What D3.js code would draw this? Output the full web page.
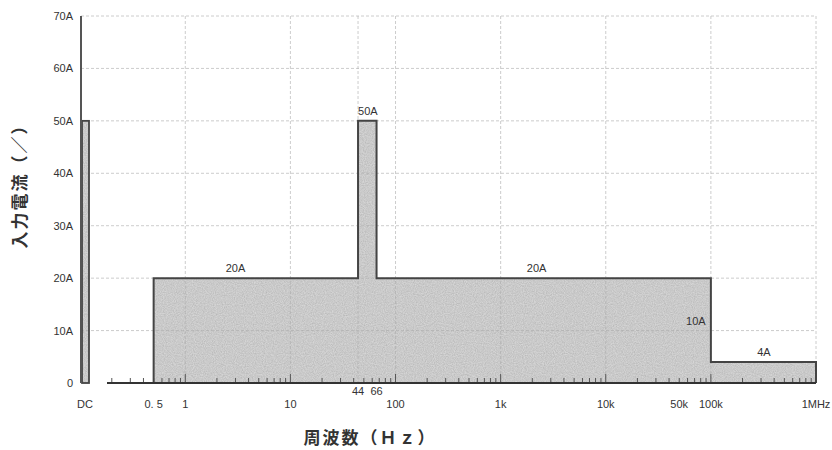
<!DOCTYPE html>
<html>
<head>
<meta charset="utf-8">
<script src="https://cdn.jsdelivr.net/npm/d3@7"></script>
<style>
  html, body { margin: 0; padding: 0; background: #fff; }
  svg { display: block; }
  text { font-family: "Liberation Sans", "DejaVu Sans", sans-serif; fill: #333; }
  .cjk { font-family: "Noto Sans CJK JP", sans-serif; }
</style>
</head>
<body>
<svg id="chart" width="832" height="450"></svg>
<script>
// Input current limit per frequency band (A)
const bandStart = [0.5, 44, 66, 100000];
const bandEnd   = [44, 66, 100000, 1000000];
const bandAmp   = [20, 50, 20, 4];
const dcAmp = 50;

// Band annotations
const noteText = ["20A", "50A", "20A", "10A", "4A"];
const noteFreq = [3, 54.5, 2200, 72000, 320000];
const noteAmp  = [20, 50, 20, 10, 4];

// Axis ticks
const xTickValues = [0.5, 1, 10, 100, 1000, 10000, 50000, 100000, 1000000];
const xTickLabels = ["0. 5", "1", "10", "100", "1k", "10k", "50k", "100k", "1MHz"];
const xSubValues  = [44, 66];
const xSubLabels  = ["44", "66"];
const yTickValues = [0, 10, 20, 30, 40, 50, 60, 70];
const yTickLabels = ["0", "10A", "20A", "30A", "40A", "50A", "60A", "70A"];
const xGridValues = [1, 10, 44, 100, 1000, 10000, 100000, 1000000];

const svg = d3.select("#chart");
const x = d3.scaleLog().domain([0.18, 1e6]).range([107, 816]);
const y = d3.scaleLinear().domain([0, 70]).range([383, 16]);
const dcX0 = 81, dcX1 = 89;

// Shaded step area
const pts = [];
bandStart.forEach((s, i) => {
  pts.push([x(s), y(bandAmp[i])]);
  pts.push([x(bandEnd[i]), y(bandAmp[i])]);
});
const area = [[x(bandStart[0]), y(0)], ...pts, [x(bandEnd[bandEnd.length - 1]), y(0)]];

// speckled grey fill
const defs = svg.append("defs");
const f = defs.append("filter").attr("id", "grain").attr("x", 0).attr("y", 0).attr("width", 1).attr("height", 1);
f.append("feTurbulence").attr("type", "fractalNoise").attr("baseFrequency", 0.9).attr("numOctaves", 2).attr("seed", 3).attr("result", "n");
f.append("feColorMatrix").attr("in", "n").attr("type", "matrix")
  .attr("values", "0 0 0 0 0  0 0 0 0 0  0 0 0 0 0  0 0 0 0.4 -0.08").attr("result", "a");
f.append("feComposite").attr("in", "a").attr("in2", "SourceGraphic").attr("operator", "in").attr("result", "m");
f.append("feMerge").selectAll("feMergeNode").data(["SourceGraphic", "m"]).join("feMergeNode").attr("in", d => d);

const line = d3.line();
svg.append("path").attr("d", line(area) + "Z")
  .attr("fill", "#d6d6d6").attr("filter", "url(#grain)");
svg.append("rect").attr("x", dcX0).attr("y", y(dcAmp)).attr("width", dcX1 - dcX0).attr("height", y(0) - y(dcAmp))
  .attr("fill", "#d6d6d6").attr("filter", "url(#grain)");

// Dotted grid, showing through the shading
const grid = svg.append("g").attr("stroke", "#aaa").attr("stroke-width", 1)
  .attr("stroke-opacity", 0.6).attr("stroke-dasharray", "3,2");
grid.selectAll("line.h").data(yTickValues.filter(v => v > 0)).join("line")
  .attr("x1", dcX0).attr("x2", x(1e6))
  .attr("y1", d => y(d)).attr("y2", d => y(d));
grid.selectAll("line.v").data(xGridValues).join("line")
  .attr("x1", d => x(d)).attr("x2", d => x(d))
  .attr("y1", y(70)).attr("y2", y(0));

// Minor decade ticks along the base
const minor = [];
for (let e = -1; e <= 5; e++) for (let m = 1; m <= 9; m++) {
  const v = m * Math.pow(10, e);
  if (v >= 0.2 && v <= 1e6) minor.push(v);
}
svg.append("g").attr("stroke", "#555").attr("stroke-width", 1)
  .selectAll("line").data(minor).join("line")
  .attr("x1", d => x(d)).attr("x2", d => x(d))
  .attr("y1", y(0)).attr("y2", d => y(0) - (Math.abs(Math.log10(d) % 1) < 1e-9 ? 9 : 5));

// Outline of the step
svg.append("path").attr("d", line(area))
  .attr("fill", "none").attr("stroke", "#444").attr("stroke-width", 2);
svg.append("rect").attr("x", dcX0 + 1).attr("y", y(dcAmp)).attr("width", dcX1 - dcX0 - 1).attr("height", y(0) - y(dcAmp))
  .attr("fill", "none").attr("stroke", "#444").attr("stroke-width", 1.8);

// Axes lines
svg.append("line").attr("x1", dcX0).attr("x2", dcX0).attr("y1", y(70)).attr("y2", y(0))
  .attr("stroke", "#555").attr("stroke-width", 2);
svg.append("line").attr("x1", x(0.18)).attr("x2", x(1e6)).attr("y1", y(0)).attr("y2", y(0))
  .attr("stroke", "#333").attr("stroke-width", 2);

// Y tick labels
svg.append("g").selectAll("text").data(yTickValues).join("text")
  .attr("x", 73).attr("y", d => y(d) + 4)
  .attr("text-anchor", "end").attr("font-size", 11)
  .text((d, i) => yTickLabels[i]);

// X tick labels
svg.append("g").selectAll("text").data(xTickValues).join("text")
  .attr("x", d => x(d)).attr("y", 408)
  .attr("text-anchor", "middle").attr("font-size", 11)
  .text((d, i) => xTickLabels[i]);
svg.append("text").attr("x", 85).attr("y", 408).attr("text-anchor", "middle")
  .attr("font-size", 11).text("DC");
svg.append("g").selectAll("text").data(xSubValues).join("text")
  .attr("x", d => x(d)).attr("y", 395)
  .attr("text-anchor", "middle").attr("font-size", 11)
  .text((d, i) => xSubLabels[i]);

// Band annotations
svg.append("g").selectAll("text").data(noteFreq).join("text")
  .attr("x", d => x(d)).attr("y", (d, i) => y(noteAmp[i]) - 6)
  .attr("text-anchor", "middle").attr("font-size", 11)
  .text((d, i) => noteText[i]);

// Axis titles
svg.append("text").attr("class", "cjk")
  .attr("transform", "translate(26,182) rotate(-90)")
  .attr("text-anchor", "middle").attr("font-size", 17).attr("font-weight", "bold")
  .attr("letter-spacing", 2)
  .text("入力電流（／）");
svg.append("text").attr("class", "cjk")
  .attr("x", 370).attr("y", 444)
  .attr("text-anchor", "middle").attr("font-size", 17).attr("font-weight", "bold")
  .attr("letter-spacing", 2)
  .text("周波数（Ｈｚ）");
</script>
</body>
</html>
